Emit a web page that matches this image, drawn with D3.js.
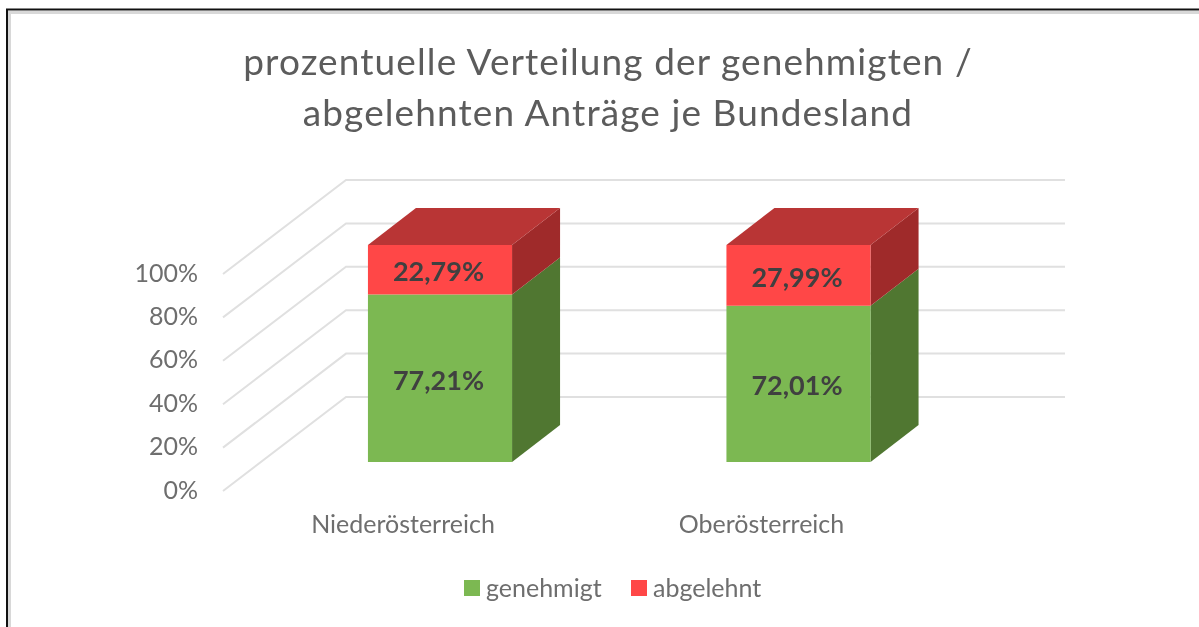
<!DOCTYPE html>
<html lang="de">
<head>
<meta charset="utf-8">
<title>Anträge je Bundesland</title>
<script src="https://cdn.jsdelivr.net/npm/d3@7"></script>
<style>
    html, body { margin: 0; padding: 0; background: #fff; }
    svg { display: block; font-family: Lato, "Open Sans", sans-serif; }
    svg text { filter: blur(0.4px); }
    .axis path, .axis line { display: none; }
    .axis text { fill: #6e6e6e; }
</style>
</head>
<body>
<svg id="chart" width="1199" height="627"></svg>
<script>
    const categories = ['Niederösterreich', 'Oberösterreich'];
    const seriesNames = ['genehmigt', 'abgelehnt'];
    const genehmigt = [77.21, 72.01];
    const abgelehnt = [22.79, 27.99];
    const yTicks = [0, 20, 40, 60, 80, 100];
    const titleLines = ['prozentuelle Verteilung der genehmigten /', 'abgelehnten Anträge je Bundesland'];

    const rows = categories.map((c, i) => ({category: c, genehmigt: genehmigt[i], abgelehnt: abgelehnt[i]}));
    const stacked = d3.stack().keys(seriesNames)(rows);

    const svg = d3.select('#chart');
    const colors = {
        genehmigt: {front: '#7cb852', side: '#507731'},
        abgelehnt: {front: '#ff4747', side: '#9f2a2a', top: '#b93535'}
    };
    // fake 3d: offset of the back edge of a bar
    const depth = {x: 48, y: -37};

    const x = d3.scaleBand().domain(categories).range([260.75, 977.75]).paddingInner(0.598).paddingOuter(0.299);
    const yBar = d3.scaleLinear().domain([0, 100]).range([462, 245]);
    const yWall = d3.scaleLinear().domain([0, 100]).range([397, 180]);
    const yFloor = d3.scaleLinear().domain([0, 100]).range([491, 274]);
    const pct = d3.formatLocale({decimal: ',', thousands: '.', grouping: [3], currency: ['', '€']}).format('.2f');

    // frame
    svg.append('path').attr('d', 'M9.5,627V12.5H1199').attr('fill', 'none').attr('stroke', '#d8d8d8').attr('stroke-width', 3);
    svg.append('path').attr('d', 'M7,627V9.5H1199').attr('fill', 'none').attr('stroke', '#111').attr('stroke-width', 2);

    // title
    svg.append('g').selectAll('text').data(titleLines).enter().append('text')
        .attr('x', 608)
        .attr('y', (d, i) => 75 + i * 51)
        .attr('text-anchor', 'middle')
        .attr('font-size', 37)
        .attr('letter-spacing', 1.1)
        .attr('fill', '#5c5c5c')
        .text(d => d);

    // grid
    const grid = svg.append('g').attr('fill', 'none').attr('stroke', '#e0e0e0').attr('stroke-width', 2);
    grid.selectAll('path').data(yTicks).enter().append('path')
        .attr('d', d => `M223,${yFloor(d)}L346,${yWall(d)}H1065`);

    // y axis labels
    svg.append('g').attr('class', 'axis')
        .attr('transform', 'translate(198,-1)')
        .call(d3.axisLeft(yFloor).tickValues(yTicks).tickSize(0).tickPadding(0).tickFormat(d => d + '%'))
        .call(g => g.selectAll('text').attr('font-size', 25).attr('font-family', 'Lato'));

    // bars
    const serie = svg.append('g').selectAll('g').data(stacked).enter().append('g');

    serie.selectAll('.side').data(s => s.map(d => ({key: s.key, d}))).enter().append('polygon')
        .attr('class', 'side')
        .attr('fill', e => colors[e.key].side)
        .attr('points', e => {
            const xr = x(e.d.data.category) + x.bandwidth();
            const y0 = yBar(e.d[0]), y1 = yBar(e.d[1]);
            return [[xr, y0], [xr, y1], [xr + depth.x, y1 + depth.y], [xr + depth.x, y0 + depth.y]].join(' ');
        });

    serie.selectAll('.front').data(s => s.map(d => ({key: s.key, d}))).enter().append('rect')
        .attr('class', 'front')
        .attr('x', e => x(e.d.data.category))
        .attr('y', e => yBar(e.d[1]))
        .attr('width', x.bandwidth())
        .attr('height', e => yBar(e.d[0]) - yBar(e.d[1]))
        .attr('fill', e => colors[e.key].front);

    // lid on the top segment
    svg.append('g').selectAll('polygon').data(categories).enter().append('polygon')
        .attr('fill', colors.abgelehnt.top)
        .attr('points', c => {
            const xl = x(c), xr = xl + x.bandwidth(), yt = yBar(100);
            return [[xl, yt], [xr, yt], [xr + depth.x, yt + depth.y], [xl + depth.x, yt + depth.y]].join(' ');
        });

    // value labels
    serie.selectAll('.val').data(s => s.map(d => d)).enter().append('text')
        .attr('class', 'val')
        .attr('x', d => x(d.data.category) + x.bandwidth() / 2 - 1.5)
        .attr('y', d => (yBar(d[0]) + yBar(d[1])) / 2 + 2)
        .attr('dy', '0.35em')
        .attr('text-anchor', 'middle')
        .attr('font-size', 27)
        .attr('font-weight', 700)
        .attr('fill', '#404040')
        .text(d => pct(d[1] - d[0]) + '%');

    // category labels sit left of the bar centres
    svg.append('g').attr('class', 'axis')
        .attr('transform', 'translate(-37,515)')
        .call(d3.axisBottom(x).tickSize(0).tickPadding(0))
        .call(g => g.selectAll('text').attr('font-size', 25).attr('font-family', 'Lato'));

    // legend
    const legendX = {genehmigt: 464, abgelehnt: 631};
    const legend = svg.append('g').selectAll('g').data(seriesNames).enter().append('g')
        .attr('transform', d => `translate(${legendX[d]},580)`);
    legend.append('rect').attr('width', 16).attr('height', 16).attr('fill', d => colors[d].front);
    legend.append('text')
        .attr('x', 22).attr('y', 8).attr('dy', '0.35em')
        .attr('font-size', 25)
        .attr('fill', '#6e6e6e')
        .text(d => d);
</script>
</body>
</html>
